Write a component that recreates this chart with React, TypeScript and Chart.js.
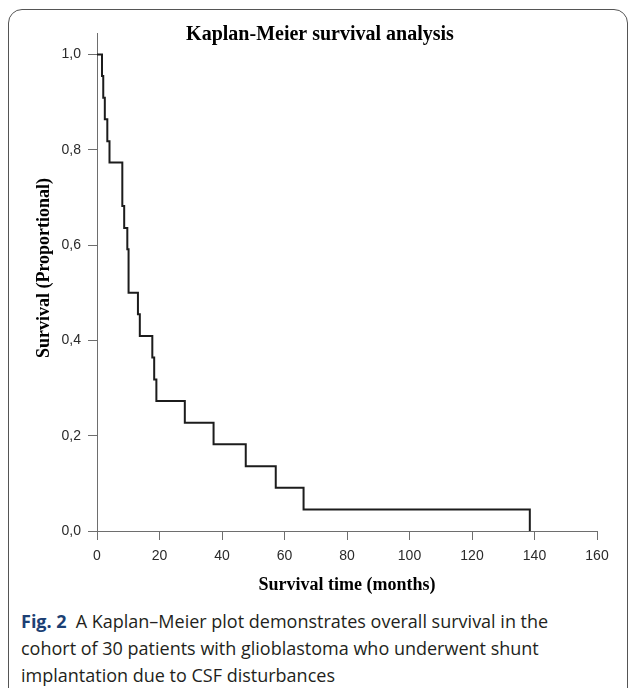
import React, { useEffect, useRef } from "react";
import { Chart, registerables } from "chart.js";

Chart.register(...registerables);

// ---- data ----
const months = [0, 1.6, 2.0, 2.5, 3.3, 4.0, 8.1, 8.7, 9.7, 10.1, 13.1, 13.7, 17.7, 18.3, 19.0, 28.1, 37.3, 47.6, 57.2, 66.1, 138.5];
const survival = [1.0, 0.955, 0.909, 0.864, 0.818, 0.773, 0.682, 0.636, 0.591, 0.5, 0.455, 0.409, 0.364, 0.318, 0.273, 0.227, 0.182, 0.136, 0.091, 0.045, 0.0];

const yTickValues = [0, 0.2, 0.4, 0.6, 0.8, 1.0];
const yTickLabels = ["0,0", "0,2", "0,4", "0,6", "0,8", "1,0"];
const xTickValues = [0, 20, 40, 60, 80, 100, 120, 140, 160];
const xTickLabels = ["0", "20", "40", "60", "80", "100", "120", "140", "160"];

const chartTitle = "Kaplan-Meier survival analysis";
const xTitle = "Survival time (months)";
const yTitle = "Survival (Proportional)";
const figLabel = "Fig. 2";
const captionLines = [
  "A Kaplan\u2013Meier plot demonstrates overall survival in the",
  "cohort of 30 patients with glioblastoma who underwent shunt",
  "implantation due to CSF disturbances",
];

const serif = "'Liberation Serif', 'Times New Roman', serif";

const titlePlugin = {
  id: "kmTitles",
  afterDraw(chart: any) {
    const ctx = chart.ctx;
    ctx.save();
    ctx.fillStyle = "#000";
    ctx.textAlign = "center";
    ctx.font = `bold 20px ${serif}`;
    ctx.textBaseline = "alphabetic";
    ctx.fillText(chartTitle, 320, 40);
    // y-axis title
    ctx.font = `bold 18px ${serif}`;
    ctx.textBaseline = "middle";
    ctx.translate(44, 268);
    ctx.rotate(-Math.PI / 2);
    ctx.fillText(yTitle, 0, 0);
    ctx.restore();
  },
};

function KMChart() {
  const ref = useRef<HTMLCanvasElement | null>(null);
  useEffect(() => {
    if (!ref.current) return;
    const axisColor = "#6e6e6e";
    const tickFont = { family: "'Liberation Sans', Arial, sans-serif", size: 14 };
    const titleFont = { family: serif, size: 18, weight: "bold" as const };
    const chart = new Chart(ref.current, {
      type: "line",
      data: {
        datasets: [
          {
            data: months.map((m, i) => ({ x: m, y: survival[i] })),
            borderColor: "#1c1c1c",
            borderWidth: 2,
            pointRadius: 0,
            stepped: "before",
            fill: false,
            clip: false as any,
          },
        ],
      },
      options: {
        responsive: false,
        animation: false,
        layout: { padding: { left: 0, right: 33, top: 33, bottom: 0 } },
        plugins: { legend: { display: false }, tooltip: { enabled: false }, title: { display: false } },
        scales: {
          x: {
            type: "linear",
            min: 0,
            max: 160,
            afterFit: (s: any) => { s.height = 69; },
            afterBuildTicks: (s: any) => { s.ticks = xTickValues.map((v) => ({ value: v })); },
            ticks: {
              callback: (v: any) => xTickLabels[xTickValues.indexOf(Number(v))] ?? "",
              font: tickFont,
              color: "#2a2a2a",
              padding: 8,
              maxRotation: 0,
              autoSkip: false,
            },
            grid: { display: true, drawOnChartArea: false, drawTicks: true, tickLength: 9, color: axisColor },
            border: { display: true, color: axisColor, width: 1 },
            title: { display: true, text: xTitle, font: titleFont, color: "#000", padding: { top: 0, bottom: 4 } },
          },
          y: {
            type: "linear",
            min: 0,
            max: 1.045,
            afterFit: (s: any) => { s.width = 97; },
            afterBuildTicks: (s: any) => { s.ticks = yTickValues.map((v) => ({ value: v })); },
            ticks: {
              callback: (v: any) => {
                const i = yTickValues.findIndex((t) => Math.abs(t - Number(v)) < 1e-6);
                return i >= 0 ? yTickLabels[i] : "";
              },
              font: tickFont,
              color: "#2a2a2a",
              padding: 7,
              autoSkip: false,
            },
            grid: { display: true, drawOnChartArea: false, drawTicks: true, tickLength: 9, color: axisColor },
            border: { display: true, color: axisColor, width: 1 },
            title: { display: false },
          },
        },
      },
      plugins: [titlePlugin],
    });
    return () => chart.destroy();
  }, []);
  return <canvas ref={ref} width={630} height={600} style={{ position: "absolute", left: 0, top: 0, width: 630, height: 600 }} />;
}

export default function App() {
  return (
    <div style={{ position: "absolute", left: 0, top: 0, width: 630, height: 688, overflow: "hidden", background: "#fff" }}>
      <div
        style={{
          position: "absolute",
          left: 8,
          top: 9,
          width: 620,
          height: 740,
          border: "1.3px solid #555",
          borderRadius: 14,
          boxSizing: "border-box",
        }}
      />
      <KMChart />
      <div
        style={{
          position: "absolute",
          left: 21,
          top: 608,
          fontFamily: "'Open Sans', 'Noto Sans', sans-serif",
          fontSize: 18,
          lineHeight: "27px",
          color: "#231f20",
          whiteSpace: "nowrap",
        }}
      >
        <div>
          <span style={{ fontWeight: 700, color: "#1c3f74" }}>{figLabel}</span>
          <span>{"\u2002" + captionLines[0]}</span>
        </div>
        <div>{captionLines[1]}</div>
        <div>{captionLines[2]}</div>
      </div>
    </div>
  );
}
